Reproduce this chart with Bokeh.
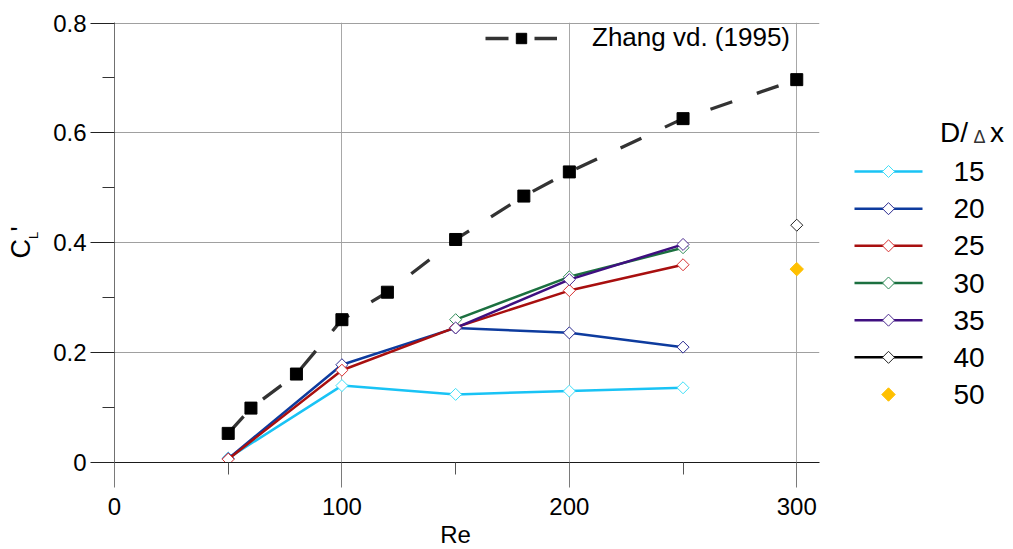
import math
from bokeh.plotting import figure
from bokeh.layouts import row
from bokeh.models import (FixedTicker, CustomJSTickFormatter, Legend, LegendItem,
                          Range1d, Title)
from bokeh.core.properties import value
from bokeh.embed import file_html
from bokeh.resources import INLINE

FONT = "Liberation Sans"

# ---------------- data ----------------
re_a = [50, 100, 150, 200, 250]
cl_15 = [0.008, 0.140, 0.124, 0.130, 0.136]
cl_20 = [0.007, 0.178, 0.245, 0.236, 0.210]
cl_25 = [0.006, 0.168, 0.246, 0.313, 0.360]
re_b = [150, 200, 250]
cl_30 = [0.260, 0.338, 0.391]
cl_35 = [0.245, 0.333, 0.397]
re_c = [300]
cl_40 = [0.432]
cl_50 = [0.352]

zhang_re = [50, 60, 80, 100, 120, 150, 180, 200, 250, 300]
zhang_cl = [0.053, 0.099, 0.161, 0.260, 0.310, 0.406, 0.485, 0.529, 0.626, 0.697]

labels = ["15", "20", "25", "30", "35", "40", "50"]
x_ticks = [0, 100, 200, 300]
x_minor = [50, 150, 250]
y_ticks = [0, 0.2, 0.4, 0.6, 0.8]
y_minor = [0.1, 0.3, 0.5, 0.7]

line_colors = ["#19C3F5", "#0D3B9E", "#A80F0F", "#1C7040", "#3F0F80", "#000000", None]
mark_colors = ["#40E0F8", "#2A2A90", "#D83030", "#2E8B57", "#4B2A8F", "#222222", "#FFC000"]
series = [
    (re_a, cl_15), (re_a, cl_20), (re_a, cl_25),
    (re_b, cl_30), (re_b, cl_35), (re_c, cl_40), (re_c, cl_50),
]

H = 549
TOP, BOTTOM = 22, 87
LEFT_W = 46

# ---------------- y-label strip (page pixel coordinates) ----------------
ly = figure(width=LEFT_W, height=H, x_range=Range1d(0, LEFT_W),
            y_range=Range1d(BOTTOM, H - TOP), output_backend="svg", toolbar_location=None,
            min_border_left=0, min_border_right=0, min_border_top=TOP, min_border_bottom=BOTTOM,
            x_axis_type=None, y_axis_type=None)
ly.grid.visible = False
ly.outline_line_color = None
ly.text(x=[20.5, 33, 20.6], y=[H - 258, H - 238.5, H - 231], text=["C", "L", "'"],
        angle=math.pi / 2, text_font=value(FONT),
        text_font_size=["27px", "13px", "27px"], text_align="left",
        text_baseline="middle", text_color="black")

# ---------------- main figure ----------------
p = figure(width=830 - LEFT_W, height=H, x_range=Range1d(0, 310), y_range=Range1d(0, 0.801),
           output_backend="svg", toolbar_location=None,
           min_border_left=114 - LEFT_W, min_border_right=11,
           min_border_top=TOP, min_border_bottom=BOTTOM)
p.outline_line_color = None
p.background_fill_color = "white"

p.xaxis.ticker = FixedTicker(ticks=x_ticks, minor_ticks=x_minor)
p.yaxis.ticker = FixedTicker(ticks=y_ticks, minor_ticks=y_minor)
p.xgrid.ticker = FixedTicker(ticks=x_ticks[1:])
p.ygrid.ticker = FixedTicker(ticks=y_ticks[1:])
p.yaxis.formatter = CustomJSTickFormatter(code="return (Math.round(tick*10)/10).toString();")

p.xgrid.grid_line_color = "#a8a8a8"
p.ygrid.grid_line_color = "#a0a0a0"

for ax in (p.xaxis, p.yaxis):
    ax.major_label_text_font = FONT
    ax.major_label_text_font_size = "24px"
    ax.major_label_text_color = "black"
    ax.major_tick_in = 0
    ax.minor_tick_in = 0
    ax.minor_tick_out = 12

p.xaxis.axis_line_color = "#1a1a1a"
p.xaxis.axis_line_width = 1.2
p.xaxis.major_tick_out = 25
p.xaxis.major_tick_line_color = "#7a7a7a"
p.xaxis.minor_tick_line_color = "#555555"
p.xaxis.major_label_standoff = 10

p.yaxis.axis_line_color = "#707070"
p.yaxis.major_tick_out = 24
p.yaxis.major_tick_line_color = "#222222"
p.yaxis.minor_tick_line_color = "#333333"
p.yaxis.major_label_standoff = 4

# x-axis title
p.add_layout(Title(text="Re", align="left", offset=325.7, standoff=2,
                   text_font=FONT, text_font_size="24px", text_font_style="normal",
                   text_color="black"), "below")

# series
for (xs, ys), lc, mc in zip(series, line_colors, mark_colors):
    if lc is not None:
        p.line(xs, ys, line_color=lc, line_width=2.5)
        p.scatter(xs, ys, marker="square", angle=math.pi / 4, size=8.5,
                  fill_color="white", line_color=mc, line_width=1)
    else:
        p.scatter(xs, ys, marker="square", angle=math.pi / 4, size=9.5,
                  fill_color=mc, line_color=mc, line_width=1)

# Zhang et al.
zl = p.line(zhang_re, zhang_cl, line_color="#333333", line_width=3.3, line_dash="23 26")
zs = p.scatter(zhang_re, zhang_cl, marker="square", size=12, fill_color="black",
               line_color="black")
leg = Legend(items=[LegendItem(label="Zhang vd. (1995)", renderers=[zl, zs])],
             location=(371, 409), padding=0, margin=0, spacing=0,
             glyph_width=72, glyph_height=26, label_height=26, label_standoff=35,
             label_text_font=FONT, label_text_font_size="26px", label_text_color="black",
             background_fill_alpha=0, border_line_color=None)
p.add_layout(leg)

# ---------------- legend figure (page pixel coordinates) ----------------
q = figure(width=183, height=H, x_range=Range1d(830, 1013), y_range=Range1d(H - BOTTOM, TOP),
           output_backend="svg", toolbar_location=None,
           min_border_left=0, min_border_right=0, min_border_top=TOP, min_border_bottom=BOTTOM,
           x_axis_type=None, y_axis_type=None)
q.grid.visible = False
q.outline_line_color = None

row_y = [171 + i * 37.17 for i in range(len(labels))]
for yy, lc, mc in zip(row_y, line_colors, mark_colors):
    if lc is not None:
        q.line([854, 922], [yy, yy], line_color=lc, line_width=2.5)
        q.scatter([888], [yy], marker="square", angle=math.pi / 4, size=8.5,
                  fill_color="white", line_color=mc, line_width=1)
    else:
        q.scatter([888], [yy], marker="square", angle=math.pi / 4, size=9.5,
                  fill_color=mc, line_color=mc)
q.text(x=[953] * len(labels), y=row_y, text=labels,
       text_font=value(FONT), text_font_size="28px", text_align="left",
       text_baseline="middle", text_color="black")
q.text(x=[939.5, 973, 989.5], y=[132, 136, 132], text=["D/", "Δ", "x"],
       text_font=value(FONT), text_font_size=["28px", "18px", "28px"],
       text_align="left", text_baseline="middle", text_color=["black", "#333333", "black"])

layout = row(ly, p, q)
open("out.html", "w").write(file_html(layout, INLINE))
